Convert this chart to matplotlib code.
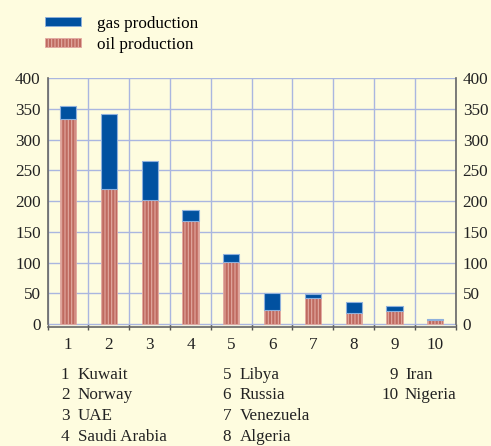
import matplotlib
matplotlib.use('Agg')
from matplotlib import pyplot as plt
from matplotlib.patches import Patch
import numpy as np

# production figures
ranks = [1, 2, 3, 4, 5, 6, 7, 8, 9, 10]
countries = ['Kuwait', 'Norway', 'UAE', 'Saudi Arabia', 'Libya',
             'Russia', 'Venezuela', 'Algeria', 'Iran', 'Nigeria']
oil = [333, 220, 202, 167, 101, 23, 42, 18, 21, 6]
gas = [22, 122, 64, 19, 13, 28, 7, 17, 8, 2]
yticks = [0, 50, 100, 150, 200, 250, 300, 350, 400]

bg = '#fefcdf'
gas_col = '#0151a0'
oil_col = '#bf6a60'
stripe_col = '#e2aaa2'
grid_col = '#aab6e0'
fs = 12.3

plt.rcParams['font.family'] = ['Liberation Serif', 'DejaVu Serif']
plt.rcParams['hatch.linewidth'] = 0.8

fig = plt.figure(figsize=(4.91, 4.46), dpi=100, facecolor=bg)
ax = fig.add_axes([0.0971, 0.2668, 0.831, 0.5576], facecolor=bg)

x = np.arange(len(ranks))
ax.bar(x, oil, width=0.4, color=oil_col, edgecolor=stripe_col,
       hatch='|||||', linewidth=0.6, zorder=3)
ax.bar(x, gas, width=0.4, bottom=oil, color=gas_col, edgecolor='#8fb0dc',
       linewidth=0.8, zorder=3)

ax.set_xlim(-0.5, len(ranks) - 0.5)
ax.set_ylim(-5, 400)
ax.set_yticks(yticks)
ax.set_yticklabels([str(v) for v in yticks], fontsize=fs)
ax.tick_params(axis='y', length=0, pad=5, labelcolor='#222222',
               right=True, labelright=True)

ax.set_xticks(x)
ax.set_xticklabels([str(r) for r in ranks], fontsize=fs)
ax.tick_params(axis='x', which='major', length=0, pad=7, labelcolor='#222222')
ax.set_xticks(np.arange(len(ranks) + 1) - 0.5, minor=True)
ax.tick_params(axis='x', which='minor', direction='inout', length=5,
               width=1, color='#555555')

ax.grid(axis='y', color=grid_col, linewidth=1, zorder=0)
ax.grid(axis='x', which='minor', color=grid_col, linewidth=1, zorder=0)
ax.grid(axis='x', which='major', visible=False)

ax.spines['top'].set_visible(False)
for s in ['left', 'right', 'bottom']:
    ax.spines[s].set_color('#666666')
    ax.spines[s].set_linewidth(1.2)
ax.spines['left'].set_bounds(0, 400)
ax.spines['right'].set_bounds(0, 400)

handles = [Patch(facecolor=gas_col, edgecolor='#8fb0dc', linewidth=0.6),
           Patch(facecolor=oil_col, edgecolor=stripe_col, hatch='|||||', linewidth=0.6)]
fig.legend(handles, ['gas production', 'oil production'], loc='upper left',
           bbox_to_anchor=(0.078, 0.98), borderaxespad=0, frameon=False,
           fontsize=fs, handlelength=2.1, handleheight=0.4, handletextpad=0.95,
           labelspacing=0.3)

# key of country numbers
cols = [(69.5, 77.5), (231, 239.5), (398.5, 405)]
rows = [375, 395, 416, 437]
for i, (r, name) in enumerate(zip(ranks, countries)):
    cx, nx = cols[i // 4]
    y = 1 - rows[i % 4] / 446
    fig.text(cx / 491, y, str(r), ha='right', va='center', fontsize=fs, color='#222222')
    fig.text(nx / 491, y, name, ha='left', va='center', fontsize=fs, color='#222222')

fig.savefig('out.png', dpi=100, facecolor=bg)
